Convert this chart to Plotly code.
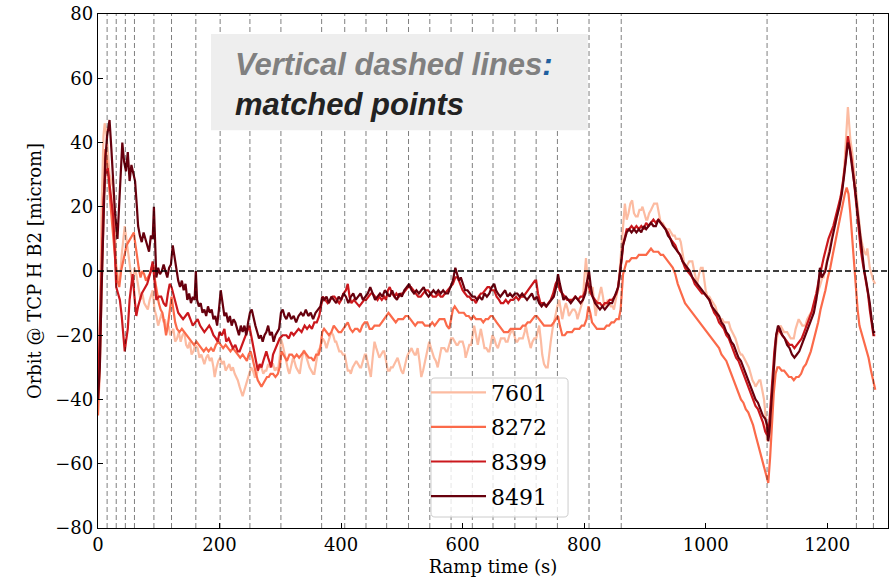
import plotly.graph_objects as go

# ---------------- data ----------------
matched_points = [15, 30, 45, 60, 92, 121, 161, 201, 250, 301, 368, 406, 441, 475,
                  511, 546, 581, 616, 650, 686, 721, 756, 808, 861, 1101, 1248, 1276]

fill_names = ["7601", "8272", "8399", "8491"]
colors = ["#fcbba1", "#fb6a4a", "#cb181d", "#67000d"]

t_7601 = [0, 3, 6, 9, 11, 13, 16, 19, 22, 25, 28, 30, 33, 36, 39, 42, 44, 46, 49, 52, 55, 57, 60, 63, 66, 70, 73, 76, 79, 82, 85, 88, 90, 93, 96, 99, 102, 105, 108, 110, 113, 116, 119, 121, 124, 127, 130, 133, 136, 139, 142, 145, 148, 151, 154, 157, 160, 164, 167, 170, 173, 175, 178, 181, 184, 187, 190, 192, 195, 198, 201, 204, 207, 210, 213, 216, 219, 222, 225, 228, 230, 233, 236, 238, 241, 244, 247, 250, 252, 255, 258, 260, 263, 266, 269, 272, 275, 277, 280, 283, 286, 288, 291, 294, 296, 299, 301, 304, 307, 310, 313, 315, 318, 321, 323, 326, 329, 332, 335, 338, 340, 343, 346, 348, 351, 354, 356, 359, 362, 365, 368, 370, 373, 376, 379, 382, 384, 387, 390, 392, 395, 397, 400, 403, 406, 409, 411, 414, 416, 419, 422, 425, 428, 431, 433, 436, 439, 441, 444, 447, 449, 452, 455, 458, 461, 463, 466, 469, 471, 474, 477, 480, 482, 485, 488, 490, 493, 496, 499, 502, 505, 508, 510, 513, 516, 518, 521, 523, 526, 529, 532, 535, 537, 540, 543, 545, 548, 551, 553, 556, 559, 562, 565, 567, 570, 573, 575, 578, 581, 584, 587, 590, 592, 595, 598, 600, 603, 605, 608, 611, 614, 617, 619, 622, 625, 628, 630, 633, 636, 639, 642, 644, 647, 649, 652, 655, 658, 661, 663, 666, 669, 671, 674, 677, 680, 682, 685, 688, 690, 693, 696, 699, 702, 704, 707, 710, 712, 715, 718, 721, 723, 726, 729, 731, 734, 737, 740, 742, 745, 748, 751, 754, 756, 759, 762, 764, 767, 770, 773, 775, 778, 781, 784, 787, 789, 792, 795, 798, 800, 803, 805, 808, 811, 814, 816, 819, 822, 825, 828, 831, 833, 836, 839, 841, 844, 847, 849, 852, 855, 858, 860, 863, 865, 867, 870, 873, 876, 879, 882, 885, 888, 891, 894, 896, 899, 902, 904, 907, 910, 912, 915, 918, 920, 923, 926, 929, 932, 935, 938, 940, 943, 946, 949, 951, 954, 957, 959, 962, 965, 967, 970, 973, 975, 978, 981, 984, 986, 989, 992, 995, 998, 1000, 1003, 1006, 1009, 1012, 1016, 1019, 1022, 1025, 1027, 1030, 1033, 1036, 1038, 1041, 1044, 1047, 1049, 1052, 1055, 1058, 1060, 1063, 1066, 1069, 1071, 1074, 1077, 1080, 1082, 1085, 1088, 1090, 1093, 1096, 1099, 1101, 1104, 1107, 1110, 1113, 1115, 1118, 1121, 1123, 1126, 1129, 1132, 1134, 1137, 1140, 1143, 1145, 1148, 1151, 1153, 1156, 1159, 1162, 1164, 1167, 1170, 1173, 1175, 1178, 1181, 1184, 1186, 1189, 1192, 1194, 1197, 1200, 1203, 1206, 1209, 1212, 1214, 1217, 1220, 1223, 1225, 1228, 1230, 1232, 1234, 1236, 1238, 1241, 1243, 1245, 1248, 1250, 1252, 1255, 1258, 1261, 1264, 1266, 1268, 1270, 1273, 1276, 1279]
v_7601 = [-38, -15, 20, 42, 46, 44, 38, 30, 28, 26, 12, 2, -2, -3, 5, 10, 14, 11, 6, 2, -2, -4, 1, -1, -5, -9, -7, -10, -11, -12, -9, -7, -6, -12, -14, -17, -15, -13, -16, -15, -18, -17, -20, -19, -18, -22, -21, -19, -22, -20, -19, -23, -24, -22, -26, -25, -23, -24, -27, -26, -28, -29, -27, -26, -28, -27, -30, -33, -30, -28, -27, -29, -28, -31, -30, -29, -31, -30, -32, -33, -34, -36, -38, -39, -37, -35, -33, -31, -30, -31, -33, -33, -31, -30, -30, -32, -31, -31, -29, -30, -29, -29, -31, -30, -31, -27, -21, -23, -26, -28, -31, -32, -29, -27, -28, -30, -31, -32, -28, -25, -25, -27, -29, -30, -31, -32, -32, -28, -25, -24, -22, -21, -22, -24, -22, -20, -19, -20, -22, -22, -24, -25, -25, -26, -26, -29, -31, -31, -32, -30, -29, -28, -29, -30, -30, -28, -26, -26, -29, -31, -33, -27, -22, -24, -26, -27, -26, -25, -25, -28, -31, -31, -30, -30, -29, -28, -27, -29, -31, -32, -29, -27, -26, -25, -24, -25, -26, -26, -24, -28, -33, -31, -29, -26, -23, -22, -24, -26, -27, -28, -30, -27, -24, -24, -24, -25, -25, -23, -21, -21, -22, -23, -23, -22, -22, -22, -24, -27, -25, -23, -23, -19, -17, -20, -23, -20, -18, -21, -24, -24, -25, -25, -22, -20, -21, -23, -24, -22, -21, -21, -21, -22, -22, -20, -19, -18, -20, -22, -22, -21, -21, -21, -19, -17, -20, -23, -24, -22, -21, -21, -19, -17, -22, -26, -29, -30, -30, -26, -22, -18, -15, -13, -11, -9, -12, -15, -12, -10, -12, -14, -13, -12, -12, -13, -15, -13, -11, -9, -3, 4, -1, -7, -6, -5, -9, -14, -10, -7, -5, -8, -11, -10, -9, -10, -11, -11, -12, -9, -6, -1, 4, 11, 17, 21, 16, 18, 21, 22, 18, 17, 17, 19, 19, 20, 18, 16, 16, 18, 19, 20, 21, 21, 21, 18, 15, 15, 14, 13, 13, 13, 12, 11, 11, 10, 10, 10, 9, 5, 2, 0, 2, 3, 3, 3, 0, -2, -4, -1, 1, 1, -3, -6, -8, -8, -9, -10, -11, -13, -14, -15, -15, -16, -16, -16, -16, -18, -19, -20, -21, -23, -25, -26, -26, -27, -28, -29, -30, -32, -34, -35, -36, -35, -34, -34, -37, -40, -46, -53, -50, -46, -36, -27, -24, -20, -18, -17, -18, -19, -19, -19, -20, -21, -21, -21, -18, -16, -15, -16, -17, -17, -17, -15, -14, -13, -13, -10, -8, -7, -6, -4, -2, -2, 1, 4, 7, 10, 12, 14, 15, 18, 21, 24, 26, 32, 38, 46, 51, 46, 41, 37, 33, 30, 24, 19, 15, 11, 8, 6, 5, 7, 4, 1, -1, -3, -4]

t_8272 = [0, 3, 6, 9, 12, 14, 17, 20, 23, 26, 29, 32, 35, 38, 41, 44, 47, 50, 53, 56, 59, 61, 64, 67, 70, 73, 76, 79, 82, 85, 88, 91, 94, 97, 100, 103, 106, 109, 112, 115, 118, 121, 124, 127, 130, 134, 138, 142, 146, 150, 154, 158, 162, 166, 170, 174, 178, 182, 186, 190, 194, 198, 202, 206, 210, 214, 218, 222, 226, 230, 234, 238, 242, 245, 248, 251, 254, 257, 260, 263, 266, 269, 272, 275, 278, 281, 284, 288, 292, 296, 299, 302, 305, 308, 311, 315, 319, 323, 327, 331, 335, 339, 343, 347, 351, 355, 359, 363, 366, 369, 372, 376, 380, 384, 388, 392, 396, 400, 404, 408, 411, 415, 419, 423, 427, 431, 435, 439, 443, 447, 451, 455, 459, 463, 467, 471, 475, 478, 482, 486, 490, 494, 498, 502, 506, 510, 514, 518, 522, 526, 530, 534, 538, 542, 546, 550, 554, 558, 562, 566, 570, 574, 578, 581, 584, 587, 590, 594, 598, 602, 606, 610, 614, 618, 622, 626, 630, 634, 638, 642, 646, 649, 652, 656, 660, 664, 668, 671, 675, 679, 683, 687, 691, 695, 699, 703, 707, 711, 715, 719, 722, 726, 730, 734, 738, 742, 746, 750, 754, 757, 760, 764, 768, 772, 776, 780, 784, 788, 792, 796, 800, 804, 807, 810, 813, 817, 821, 825, 829, 833, 837, 841, 845, 849, 853, 857, 860, 862, 864, 867, 870, 874, 878, 882, 886, 890, 894, 898, 902, 906, 910, 914, 918, 922, 926, 930, 934, 938, 942, 946, 950, 954, 958, 962, 966, 970, 974, 978, 982, 986, 990, 994, 998, 1002, 1006, 1010, 1014, 1018, 1022, 1026, 1030, 1034, 1038, 1042, 1046, 1050, 1054, 1058, 1062, 1066, 1070, 1074, 1078, 1082, 1086, 1090, 1094, 1098, 1101, 1103, 1106, 1109, 1112, 1115, 1118, 1121, 1125, 1129, 1133, 1137, 1141, 1145, 1149, 1153, 1157, 1161, 1165, 1169, 1173, 1177, 1181, 1185, 1189, 1193, 1197, 1201, 1205, 1209, 1213, 1217, 1221, 1225, 1229, 1232, 1235, 1238, 1241, 1244, 1247, 1250, 1253, 1256, 1260, 1264, 1268, 1272, 1276, 1279]
v_8272 = [-45, -30, -5, 18, 38, 35, 30, 22, 15, 10, 2, -3, -5, 0, 3, 6, 8, 9, 10, 11, 12, 9, 4, 1, -2, 0, -1, -3, -2, -1, 1, 2, -3, -7, -10, -12, -13, -16, -20, -17, -12, -8, -12, -16, -18, -19, -18, -19, -20, -21, -22, -23, -22, -23, -24, -25, -24, -25, -24, -25, -23, -22, -23, -24, -23, -24, -25, -24, -25, -26, -27, -26, -27, -28, -26, -25, -27, -30, -32, -34, -35, -36, -35, -34, -33, -33, -32, -32, -33, -32, -30, -25, -26, -27, -28, -26, -26, -27, -26, -27, -26, -25, -26, -27, -27, -28, -26, -26, -24, -19, -18, -19, -20, -19, -17, -18, -19, -19, -18, -17, -16, -18, -19, -18, -18, -19, -17, -16, -16, -18, -18, -17, -17, -17, -16, -15, -14, -13, -14, -15, -16, -15, -15, -15, -14, -14, -15, -16, -17, -16, -16, -16, -17, -17, -17, -16, -17, -16, -15, -15, -15, -17, -18, -15, -12, -11, -12, -13, -13, -13, -14, -14, -15, -14, -15, -15, -15, -16, -15, -15, -14, -14, -15, -16, -17, -18, -19, -19, -19, -18, -18, -18, -18, -18, -17, -17, -16, -16, -15, -14, -14, -15, -16, -17, -17, -17, -17, -16, -15, -14, -17, -20, -20, -19, -19, -19, -18, -18, -18, -17, -17, -15, -11, -13, -16, -17, -18, -18, -18, -18, -17, -17, -16, -16, -15, -15, -12, -5, -1, 1, 3, 3, 4, 4, 4, 5, 5, 5, 5, 6, 7, 6, 6, 6, 5, 5, 4, 3, 2, 1, -1, -4, -6, -8, -10, -11, -12, -13, -14, -15, -16, -17, -18, -19, -20, -21, -22, -23, -24, -26, -27, -28, -30, -32, -34, -36, -38, -40, -41, -43, -44, -46, -48, -51, -54, -57, -60, -63, -65, -66, -58, -47, -38, -32, -30, -30, -31, -31, -32, -33, -33, -34, -33, -33, -32, -30, -29, -27, -25, -22, -19, -16, -12, -9, -6, -2, 1, 5, 9, 13, 17, 20, 24, 26, 24, 18, 10, 3, -4, -12, -17, -19, -21, -24, -27, -31, -35, -37]

t_8399 = [0, 3, 6, 9, 12, 16, 19, 22, 25, 28, 30, 33, 36, 39, 41, 44, 46, 49, 52, 55, 57, 60, 63, 66, 69, 72, 75, 78, 81, 84, 87, 90, 93, 96, 100, 104, 108, 112, 115, 118, 121, 124, 128, 132, 136, 140, 144, 148, 152, 156, 160, 164, 168, 172, 175, 179, 183, 186, 190, 194, 197, 200, 204, 208, 211, 215, 219, 222, 226, 230, 233, 237, 241, 245, 249, 252, 255, 258, 261, 263, 266, 269, 272, 275, 277, 280, 283, 285, 288, 290, 294, 299, 304, 310, 314, 318, 322, 326, 330, 335, 340, 344, 348, 352, 356, 360, 364, 367, 370, 374, 378, 382, 386, 389, 393, 397, 400, 404, 408, 411, 414, 417, 421, 425, 430, 434, 438, 441, 445, 449, 452, 456, 460, 463, 467, 471, 474, 477, 480, 484, 488, 491, 495, 499, 502, 506, 510, 515, 519, 523, 527, 531, 535, 539, 543, 547, 551, 556, 560, 564, 567, 571, 575, 580, 584, 588, 592, 596, 600, 604, 608, 611, 615, 619, 622, 626, 630, 633, 637, 641, 644, 648, 652, 656, 660, 663, 667, 671, 675, 679, 683, 688, 692, 696, 700, 704, 708, 712, 716, 719, 721, 724, 728, 732, 737, 741, 745, 749, 753, 756, 760, 764, 768, 772, 777, 781, 785, 790, 794, 798, 802, 805, 808, 811, 814, 818, 822, 826, 830, 834, 838, 842, 846, 850, 853, 856, 858, 860, 862, 864, 867, 870, 874, 878, 882, 886, 890, 894, 898, 902, 906, 910, 914, 918, 922, 926, 930, 934, 938, 942, 946, 950, 954, 958, 962, 966, 970, 974, 978, 982, 986, 990, 994, 998, 1002, 1006, 1010, 1014, 1018, 1022, 1026, 1030, 1034, 1038, 1042, 1046, 1050, 1054, 1058, 1062, 1066, 1070, 1074, 1078, 1082, 1086, 1090, 1094, 1098, 1101, 1104, 1107, 1110, 1113, 1116, 1119, 1122, 1126, 1130, 1134, 1138, 1142, 1146, 1150, 1154, 1158, 1162, 1166, 1170, 1174, 1178, 1182, 1186, 1190, 1194, 1198, 1202, 1206, 1210, 1214, 1218, 1222, 1226, 1230, 1234, 1237, 1240, 1243, 1246, 1249, 1252, 1255, 1258, 1261, 1264, 1267, 1270, 1273, 1276, 1279]
v_8399 = [-38, -20, 5, 22, 30, 32, 27, 22, 17, 5, -5, -7, -9, -14, -18, -25, -22, -18, -9, -4, -1, -8, -14, -11, -9, -7, -6, -5, -4, -2, 0, 3, -3, -9, -8, -8, -10, -11, -7, -4, -5, -7, -10, -13, -14, -15, -14, -13, -15, -17, -16, -15, -17, -18, -19, -18, -17, -18, -20, -21, -22, -19, -20, -18, -22, -21, -23, -24, -23, -25, -25, -23, -21, -19, -17, -20, -23, -26, -29, -31, -29, -30, -28, -26, -25, -27, -29, -30, -26, -25, -23, -21, -20, -20, -21, -19, -20, -19, -18, -19, -17, -18, -17, -18, -16, -16, -14, -11, -8, -9, -10, -9, -8, -8, -9, -10, -9, -7, -6, -4, -8, -10, -9, -10, -11, -10, -9, -9, -8, -7, -7, -8, -9, -8, -9, -8, -9, -6, -5, -7, -8, -7, -8, -7, -7, -6, -5, -5, -6, -7, -8, -8, -7, -6, -6, -7, -8, -8, -7, -8, -8, -7, -6, -5, -4, -2, -2, -4, -6, -7, -8, -8, -9, -9, -10, -8, -7, -7, -6, -5, -5, -6, -6, -8, -9, -10, -10, -9, -10, -9, -9, -8, -9, -8, -8, -7, -6, -5, -4, -3, -3, -7, -10, -10, -11, -10, -9, -7, -4, -3, -6, -7, -8, -9, -9, -9, -8, -9, -8, -8, -6, -3, -5, -7, -8, -9, -10, -10, -11, -10, -10, -9, -9, -8, -7, -5, -2, 0, 4, 8, 11, 13, 13, 14, 13, 14, 13, 14, 13, 15, 14, 15, 16, 15, 16, 15, 14, 13, 12, 10, 9, 8, 6, 5, 3, 1, 0, -1, -2, -4, -5, -6, -7, -7, -8, -9, -11, -13, -14, -16, -17, -18, -20, -21, -23, -25, -27, -28, -30, -32, -34, -36, -38, -40, -42, -43, -45, -47, -50, -51, -49, -42, -33, -25, -20, -18, -19, -20, -21, -22, -23, -23, -24, -23, -22, -21, -19, -17, -15, -13, -10, -7, -3, 1, 4, 7, 10, 12, 14, 17, 20, 23, 28, 34, 42, 39, 35, 30, 24, 18, 12, 7, 3, 0, -3, -7, -12, -17, -20, -20]

t_8491 = [0, 3, 6, 9, 12, 15, 19, 22, 25, 28, 32, 35, 38, 40, 43, 46, 49, 52, 55, 58, 61, 64, 66, 69, 72, 75, 78, 81, 84, 87, 90, 92, 94, 96, 99, 102, 105, 108, 111, 114, 117, 120, 123, 126, 129, 132, 135, 138, 141, 144, 147, 150, 153, 156, 159, 161, 163, 166, 169, 172, 175, 178, 181, 184, 187, 190, 193, 196, 199, 202, 205, 208, 211, 214, 217, 220, 223, 226, 229, 232, 235, 238, 241, 244, 247, 250, 253, 256, 259, 262, 265, 268, 271, 274, 277, 280, 283, 286, 289, 292, 295, 298, 301, 304, 307, 310, 314, 318, 322, 326, 330, 334, 338, 342, 346, 350, 354, 358, 362, 366, 369, 372, 376, 380, 384, 388, 392, 396, 400, 404, 408, 412, 416, 420, 424, 428, 432, 436, 440, 444, 448, 452, 456, 460, 464, 468, 472, 476, 480, 484, 488, 492, 496, 500, 504, 508, 512, 516, 520, 524, 528, 532, 536, 540, 544, 548, 552, 556, 560, 564, 568, 572, 576, 580, 584, 588, 591, 594, 597, 600, 604, 608, 612, 616, 620, 624, 628, 632, 636, 640, 644, 648, 652, 655, 658, 662, 666, 670, 674, 678, 682, 686, 690, 694, 698, 702, 706, 710, 714, 718, 722, 726, 730, 734, 738, 742, 746, 750, 754, 757, 760, 763, 766, 770, 774, 778, 782, 786, 790, 794, 798, 802, 805, 808, 811, 814, 818, 822, 826, 830, 834, 838, 842, 846, 850, 853, 856, 858, 860, 862, 864, 867, 870, 874, 878, 882, 886, 890, 894, 898, 902, 906, 910, 914, 918, 922, 926, 930, 934, 938, 942, 946, 950, 954, 958, 962, 966, 970, 974, 978, 982, 986, 990, 994, 998, 1002, 1006, 1010, 1014, 1018, 1022, 1026, 1030, 1034, 1038, 1042, 1046, 1050, 1054, 1058, 1062, 1066, 1070, 1074, 1078, 1082, 1086, 1090, 1094, 1098, 1101, 1103, 1105, 1107, 1110, 1113, 1116, 1119, 1122, 1126, 1130, 1134, 1138, 1142, 1146, 1150, 1154, 1158, 1162, 1166, 1170, 1174, 1178, 1182, 1185, 1188, 1191, 1194, 1197, 1200, 1204, 1208, 1212, 1216, 1220, 1224, 1228, 1231, 1234, 1237, 1240, 1243, 1246, 1249, 1252, 1255, 1258, 1261, 1264, 1267, 1270, 1273, 1276, 1279]
v_8491 = [-40, -30, -5, 20, 35, 42, 47, 38, 28, 18, 10, 22, 36, 40, 34, 31, 37, 28, 33, 30, 28, 20, 14, 11, 9, 12, 10, 8, 6, 11, 10, 20, 8, -2, 1, -1, 0, 2, 0, -2, 1, 2, 8, 4, 1, -3, -5, -3, -6, -4, -9, -7, -10, -8, -9, 0, -9, -11, -10, -13, -12, -14, -11, -13, -12, -15, -14, -17, -12, -6, -10, -14, -13, -16, -14, -17, -15, -16, -18, -20, -17, -19, -17, -20, -16, -13, -12, -15, -17, -19, -21, -20, -22, -20, -19, -17, -20, -19, -22, -20, -19, -18, -13, -12, -14, -15, -13, -15, -14, -16, -14, -13, -14, -12, -14, -13, -15, -13, -12, -11, -8, -9, -8, -10, -8, -9, -10, -8, -9, -7, -8, -10, -8, -7, -9, -8, -7, -9, -8, -7, -5, -7, -9, -8, -7, -8, -6, -7, -8, -6, -8, -9, -7, -8, -6, -5, -4, -6, -7, -6, -7, -6, -5, -7, -8, -7, -6, -7, -6, -7, -6, -7, -7, -5, -3, 1, -1, -3, -2, -4, -6, -6, -7, -8, -8, -9, -8, -9, -7, -8, -7, -5, -4, -6, -7, -8, -7, -6, -8, -7, -8, -7, -7, -8, -7, -8, -9, -8, -7, -9, -8, -10, -11, -10, -11, -10, -9, -8, -5, -1, -4, -7, -9, -8, -9, -10, -9, -8, -9, -10, -9, -7, -3, 0, -5, -8, -10, -11, -12, -11, -12, -11, -10, -10, -8, -7, -5, -2, 1, 5, 8, 10, 12, 13, 12, 13, 12, 13, 12, 14, 13, 14, 15, 14, 14, 16, 15, 14, 13, 11, 10, 8, 7, 6, 5, 3, 2, 1, 0, -2, -3, -4, -5, -6, -7, -8, -9, -11, -12, -13, -14, -16, -17, -19, -20, -22, -23, -25, -27, -28, -30, -32, -34, -36, -38, -40, -41, -43, -45, -46, -48, -53, -50, -44, -35, -26, -20, -17, -18, -20, -21, -23, -24, -26, -27, -26, -25, -23, -21, -19, -17, -15, -13, -9, -5, 1, -2, -1, 0, 3, 6, 10, 14, 17, 20, 24, 30, 35, 40, 38, 34, 30, 25, 20, 15, 10, 4, 0, -3, -6, -10, -15, -19, -19]

series_t = [t_7601, t_8272, t_8399, t_8491]
series_v = [v_7601, v_8272, v_8399, v_8491]

x_ticks = [0, 200, 400, 600, 800, 1000, 1200]
y_ticks = [-80, -60, -40, -20, 0, 20, 40, 60, 80]
x_range = [0, 1300]
y_range = [-80, 80]

# ---------------- figure ----------------
SERIF = "DejaVu Serif"
fig = go.Figure()

for name, t, v, c in zip(fill_names, series_t, series_v, colors):
    fig.add_trace(go.Scatter(x=t, y=v, mode="lines", name=name,
                             legendgroup=name,
                             line=dict(color=c, width=2.2)))

shapes = []
for xp in matched_points:
    shapes.append(dict(type="line", xref="x", yref="paper", x0=xp, x1=xp, y0=0, y1=1,
                       line=dict(color="rgba(0,0,0,0.5)", width=1, dash="5px,3px"),
                       layer="above"))
shapes.append(dict(type="line", xref="paper", yref="y", x0=0, x1=1, y0=0, y1=0,
                   line=dict(color="black", width=1.4, dash="6px,3px"), layer="above"))
# text box background
shapes.append(dict(type="rect", xref="paper", yref="paper",
                   x0=0.143, x1=0.620, y0=0.774, y1=0.961,
                   fillcolor="#eeeeee", line=dict(width=0), layer="above"))
# legend frame (rounded)
lx0, lx1, ly0, ly1 = 0.4215, 0.5950, 0.0214, 0.2918
rx, ry = 0.005, 0.008
path = (f"M{lx0+rx},{ly0} L{lx1-rx},{ly0} Q{lx1},{ly0} {lx1},{ly0+ry} "
        f"L{lx1},{ly1-ry} Q{lx1},{ly1} {lx1-rx},{ly1} L{lx0+rx},{ly1} "
        f"Q{lx0},{ly1} {lx0},{ly1-ry} L{lx0},{ly0+ry} Q{lx0},{ly0} {lx0+rx},{ly0} Z")
shapes.append(dict(type="path", xref="paper", yref="paper", path=path,
                   fillcolor="rgba(255,255,255,0.8)",
                   line=dict(color="#cccccc", width=1), layer="above"))

annotations = [dict(
    xref="paper", yref="paper", x=0.171, y=0.862, xanchor="left", yanchor="middle",
    align="left", showarrow=False,
    font=dict(family="Liberation Sans", size=31),
    text=("<b><i><span style='color:#808080'>Vertical dashed lines</span>"
          "<span style='color:#1f5f9f'>:</span><br>"
          "<span style='color:#222222'>matched points</span></i></b>"),
)]

axis_common = dict(showgrid=False, zeroline=False, showline=True, linecolor="black",
                   linewidth=1.3, mirror=True, ticks="inside", ticklen=5, tickwidth=1,
                   tickcolor="black", tickfont=dict(family=SERIF, size=18, color="black"))

fig.update_layout(
    width=890, height=577,
    margin=dict(l=98, r=2, t=14, b=49),
    paper_bgcolor="white", plot_bgcolor="white",
    xaxis=dict(range=x_range, tickvals=x_ticks, **axis_common,
               title=dict(text="Ramp time (s)", font=dict(family=SERIF, size=18, color="black"),
                          standoff=6)),
    yaxis=dict(range=y_range, tickvals=y_ticks, **axis_common,
               title=dict(text="Orbit @ TCP H B2 [microm]",
                          font=dict(family=SERIF, size=18, color="black"), standoff=8)),
    legend=dict(x=0.4152, y=0.3045, xanchor="left", yanchor="top",
                bgcolor="rgba(0,0,0,0)", borderwidth=0,
                font=dict(family=SERIF, size=22, color="black"),
                traceorder="grouped", tracegroupgap=3, itemwidth=55),
    shapes=shapes, annotations=annotations, showlegend=True,
)

fig.write_html("out.html")
